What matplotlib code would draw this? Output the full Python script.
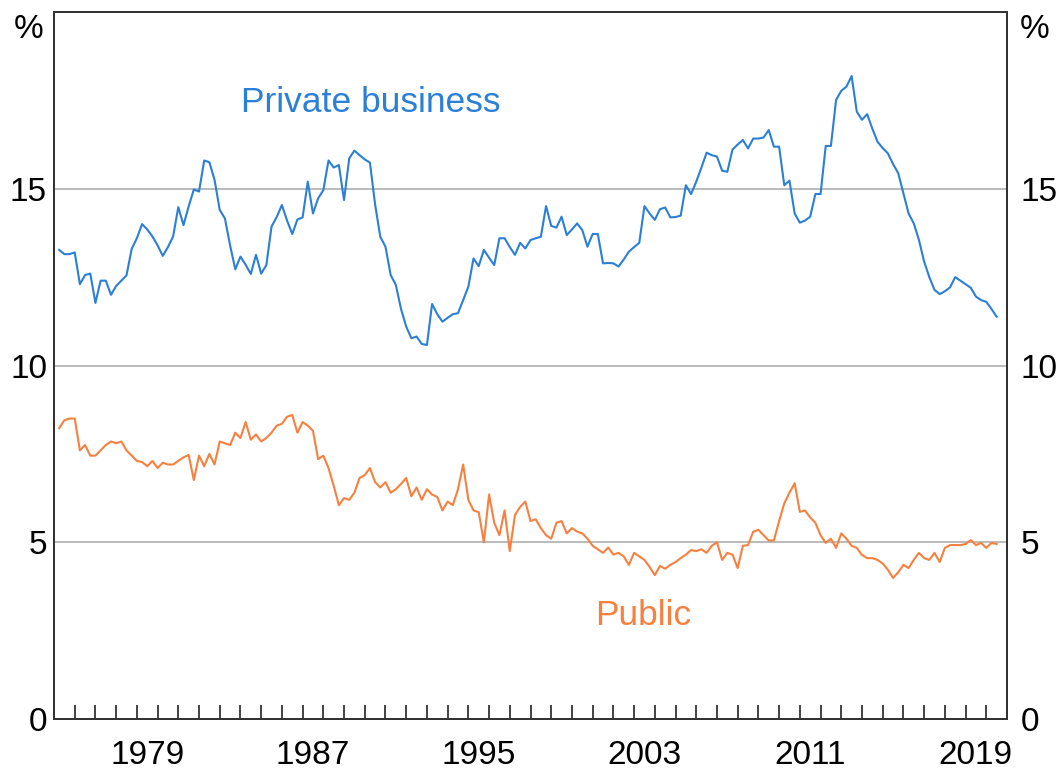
import numpy as np
import matplotlib.pyplot as plt

plt.rcParams['font.family'] = ['Liberation Sans', 'DejaVu Sans']

# Quarterly shares (%), 1975 Q2 .. 2020 Q3
private = [
    13.27, 13.15, 13.15,
    13.2, 12.3, 12.56, 12.6,
    11.77, 12.4, 12.4, 12.0,
    12.25, 12.4, 12.55, 13.3,
    13.6, 14.0, 13.85, 13.65,
    13.4, 13.1, 13.35, 13.65,
    14.48, 13.97, 14.5, 14.98,
    14.92, 15.8, 15.75, 15.25,
    14.4, 14.16, 13.4, 12.72,
    13.08, 12.85, 12.59, 13.13,
    12.6, 12.84, 13.93, 14.2,
    14.54, 14.1, 13.72, 14.13,
    14.19, 15.2, 14.3, 14.73,
    14.96, 15.8, 15.6, 15.67,
    14.68, 15.86, 16.08, 15.95,
    15.83, 15.74, 14.55, 13.64,
    13.36, 12.56, 12.28, 11.6,
    11.1, 10.77, 10.82, 10.61,
    10.58, 11.74, 11.45, 11.24,
    11.35, 11.45, 11.48, 11.85,
    12.23, 13.03, 12.81, 13.27,
    13.05, 12.84, 13.6, 13.6,
    13.35, 13.13, 13.47, 13.31,
    13.55, 13.6, 13.64, 14.51,
    13.95, 13.9, 14.21, 13.69,
    13.85, 14.02, 13.83, 13.36,
    13.72, 13.72, 12.89, 12.9,
    12.89, 12.8, 13.0, 13.22,
    13.35, 13.47, 14.51, 14.3,
    14.12, 14.42, 14.47, 14.19,
    14.2, 14.24, 15.1, 14.85,
    15.2, 15.6, 16.02, 15.95,
    15.91, 15.51, 15.48, 16.11,
    16.25, 16.38, 16.14, 16.42,
    16.42, 16.45, 16.66, 16.19,
    16.19, 15.1, 15.23, 14.3,
    14.04, 14.1, 14.21, 14.85,
    14.85, 16.21, 16.21, 17.51,
    17.77, 17.89, 18.19, 17.18,
    16.95, 17.11, 16.7, 16.33,
    16.15, 16.0, 15.7, 15.44,
    14.87, 14.3, 14.02, 13.55,
    12.94, 12.5, 12.14, 12.02,
    12.1, 12.21, 12.5, 12.4,
    12.3, 12.2, 11.95, 11.85,
    11.8, 11.6, 11.38,
]

public = [
    8.23, 8.45, 8.5,
    8.5, 7.6, 7.75, 7.45,
    7.45, 7.6, 7.75, 7.85,
    7.8, 7.85, 7.6, 7.45,
    7.3, 7.27, 7.15, 7.3,
    7.1, 7.25, 7.2, 7.2,
    7.3, 7.4, 7.47, 6.76,
    7.45, 7.15, 7.5, 7.2,
    7.85, 7.8, 7.75, 8.1,
    7.95, 8.4, 7.9, 8.05,
    7.85, 7.95, 8.1, 8.3,
    8.35, 8.55, 8.6, 8.1,
    8.4, 8.3, 8.15, 7.35,
    7.45, 7.1, 6.6, 6.05,
    6.25, 6.2, 6.4, 6.82,
    6.9, 7.1, 6.7, 6.55,
    6.7, 6.4, 6.5, 6.65,
    6.82, 6.3, 6.55, 6.2,
    6.5, 6.35, 6.28, 5.9,
    6.15, 6.05, 6.5, 7.2,
    6.2, 5.9, 5.85, 5.0,
    6.35, 5.55, 5.2, 5.9,
    4.75, 5.77, 6.0, 6.15,
    5.6, 5.65, 5.4, 5.2,
    5.1, 5.55, 5.6, 5.25,
    5.4, 5.3, 5.25, 5.1,
    4.9, 4.8, 4.7, 4.85,
    4.65, 4.7, 4.6, 4.36,
    4.7, 4.6, 4.5, 4.3,
    4.07, 4.33, 4.25, 4.36,
    4.44, 4.55, 4.65, 4.78,
    4.75, 4.8, 4.7, 4.9,
    5.0, 4.5, 4.7, 4.65,
    4.27, 4.9, 4.92, 5.3,
    5.35, 5.2, 5.05, 5.05,
    5.6, 6.1, 6.4, 6.67,
    5.86, 5.9, 5.7, 5.55,
    5.2, 4.98, 5.1, 4.84,
    5.25, 5.1, 4.9, 4.84,
    4.64, 4.55, 4.55, 4.5,
    4.4, 4.22, 3.99, 4.15,
    4.36, 4.27, 4.5, 4.7,
    4.55, 4.5, 4.7, 4.44,
    4.84, 4.92, 4.92, 4.92,
    4.95, 5.06, 4.92, 4.98,
    4.84, 4.98, 4.95,
]

label_years = [1979, 1987, 1995, 2003, 2011, 2019]
y_ticks = [0, 5, 10, 15]

blue = '#2B7FD7'
orange = '#F7803F'
fs = 24

dates = 1975.25 + 0.25 * np.arange(len(private))

fig = plt.figure(figsize=(10.61, 7.71), dpi=100)
ax = fig.add_axes([54 / 1061, 52 / 771, 953 / 1061, 707 / 771])

for y in y_ticks[1:]:
    ax.axhline(y, color='#A8A8A8', lw=1.1, zorder=0)

ax.plot(dates, private, color=blue, lw=1.5)
ax.plot(dates, public, color=orange, lw=1.5)

ax.set_xlim(1975, 2021)
ax.set_ylim(0, 20)

# year labels sit mid-year, small ticks mark the year boundaries
ax.set_xticks([y + 0.5 for y in label_years])
ax.set_xticklabels([str(y) for y in label_years])
ax.set_xticks(np.arange(1976, 2021), minor=True)
ax.tick_params(axis='x', which='major', length=0, pad=15, labelsize=fs)
ax.tick_params(axis='x', which='minor', direction='in', length=10, width=1.2, color='#222222')

ax.set_yticks(y_ticks)
ax.tick_params(axis='y', length=0, pad=5, labelsize=fs)

ax2 = ax.twinx()
ax2.set_ylim(0, 20)
ax2.set_yticks(y_ticks)
ax2.tick_params(axis='y', length=0, pad=10, labelsize=fs)

for a in (ax, ax2):
    for s in a.spines.values():
        s.set_linewidth(1.4)
        s.set_color('#333333')

ax.text(-0.011, 0.975, '%', transform=ax.transAxes, ha='right', va='center', fontsize=fs)
ax.text(1.013, 0.975, '%', transform=ax.transAxes, ha='left', va='center', fontsize=fs)

ax.text(1990.27, 17.43, 'Private business', color=blue, fontsize=25.5, ha='center', va='center')
ax.text(2003.44, 2.94, 'Public', color=orange, fontsize=25.5, ha='center', va='center')

fig.savefig('out.png', dpi=100)
